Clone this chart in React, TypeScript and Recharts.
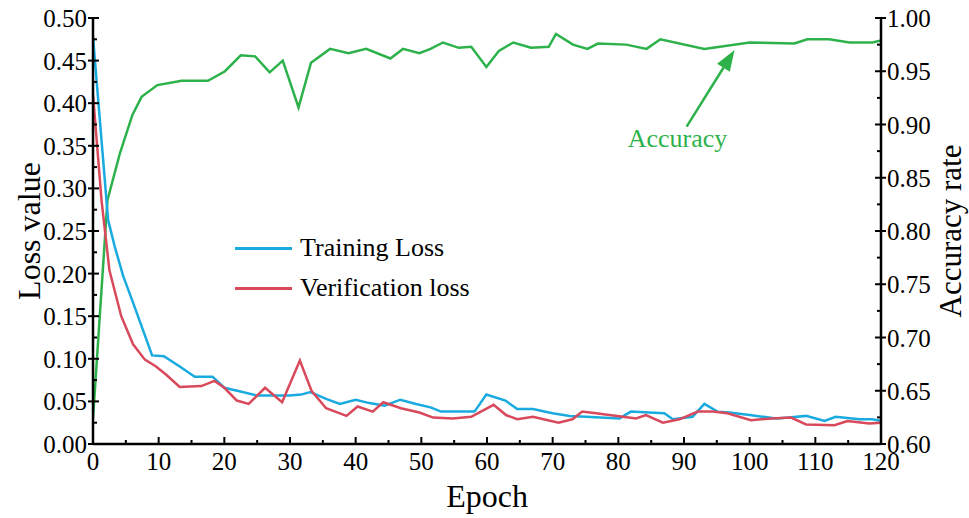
import React from 'react';
import { LineChart, Line, XAxis, YAxis, Legend, ReferenceLine, ReferenceDot } from 'recharts';

const FONT = '"Liberation Serif", "Times New Roman", serif';
const BLUE = '#19aadf';
const RED = '#d8495b';
const GREEN = '#2db24b';

// Accuracy (right axis)
const accEpochs = [0, 2.2, 4.1, 6.0, 7.4, 9.8, 13.5, 17.5, 20.1, 22.5, 24.7, 26.9, 28.9, 31.3, 33.2, 36.1, 38.9, 41.6, 45.3, 47.2, 49.7, 51.4, 53.3, 55.7, 57.6, 59.9, 61.8, 64.0, 66.7, 69.4, 70.5, 73.1, 75.3, 76.9, 81.2, 84.3, 86.4, 93.1, 100.0, 106.8, 108.8, 112.1, 115.2, 118.7, 120];
const accValues = [0.624, 0.829, 0.873, 0.909, 0.926, 0.937, 0.941, 0.941, 0.950, 0.965, 0.964, 0.949, 0.960, 0.916, 0.958, 0.971, 0.967, 0.971, 0.962, 0.971, 0.967, 0.971, 0.977, 0.972, 0.973, 0.954, 0.969, 0.977, 0.972, 0.973, 0.985, 0.975, 0.971, 0.976, 0.975, 0.971, 0.980, 0.971, 0.977, 0.976, 0.980, 0.980, 0.977, 0.977, 0.979];

// Training loss (left axis)
const trainEpochs = [0, 2.3, 3.3, 4.6, 6.1, 7.6, 9.0, 10.8, 13.2, 15.5, 18.2, 20.0, 22.3, 24.9, 29.9, 31.7, 33.1, 35.5, 37.6, 40.0, 42.1, 44.4, 46.8, 49.2, 51.4, 53.0, 58.1, 59.9, 62.8, 64.6, 67.0, 70.0, 72.6, 75.1, 80.2, 81.9, 84.7, 87.0, 88.3, 91.3, 93.1, 95.1, 96.9, 100.0, 104.0, 106.0, 108.6, 111.4, 113.1, 116.7, 118.7, 120];
const trainValues = [0.478, 0.263, 0.232, 0.197, 0.166, 0.134, 0.104, 0.103, 0.091, 0.079, 0.079, 0.066, 0.062, 0.057, 0.057, 0.058, 0.061, 0.053, 0.047, 0.052, 0.048, 0.045, 0.052, 0.047, 0.043, 0.038, 0.038, 0.058, 0.051, 0.041, 0.041, 0.036, 0.033, 0.032, 0.030, 0.038, 0.037, 0.036, 0.029, 0.032, 0.047, 0.038, 0.037, 0.034, 0.030, 0.031, 0.033, 0.027, 0.032, 0.029, 0.029, 0.027];

// Verification loss (left axis)
const valEpochs = [0, 1.3, 2.5, 4.3, 6.1, 7.9, 9.6, 11.2, 13.2, 16.5, 18.5, 20.0, 21.9, 23.7, 26.2, 28.8, 31.5, 33.3, 35.5, 38.6, 40.3, 42.6, 44.2, 46.9, 49.7, 51.8, 54.8, 57.6, 61.0, 62.9, 64.6, 67.0, 70.9, 73.0, 74.5, 76.6, 80.7, 82.7, 84.2, 86.8, 89.3, 92.1, 94.4, 96.6, 100.2, 103.3, 106.3, 108.6, 112.9, 114.9, 118.2, 120];
const valValues = [0.410, 0.286, 0.204, 0.150, 0.117, 0.099, 0.091, 0.081, 0.067, 0.068, 0.074, 0.066, 0.051, 0.047, 0.066, 0.049, 0.098, 0.062, 0.042, 0.033, 0.044, 0.038, 0.049, 0.042, 0.037, 0.031, 0.030, 0.032, 0.046, 0.034, 0.029, 0.032, 0.025, 0.029, 0.038, 0.036, 0.032, 0.030, 0.034, 0.025, 0.029, 0.038, 0.038, 0.036, 0.028, 0.030, 0.031, 0.023, 0.022, 0.027, 0.024, 0.025];

const xTicks = [0, 5, 10, 15, 20, 25, 30, 35, 40, 45, 50, 55, 60, 65, 70, 75, 80, 85, 90, 95, 100, 105, 110, 115, 120];
const leftTicks = [0, 0.025, 0.05, 0.075, 0.1, 0.125, 0.15, 0.175, 0.2, 0.225, 0.25, 0.275, 0.3, 0.325, 0.35, 0.375, 0.4, 0.425, 0.45, 0.475, 0.5];
const rightTicks = [0.6, 0.625, 0.65, 0.675, 0.7, 0.725, 0.75, 0.775, 0.8, 0.825, 0.85, 0.875, 0.9, 0.925, 0.95, 0.975, 1.0];

const accData = accEpochs.map((e, i) => ({ epoch: e, acc: accValues[i] }));
const trainData = trainEpochs.map((e, i) => ({ epoch: e, loss: trainValues[i] }));
const valData = valEpochs.map((e, i) => ({ epoch: e, loss: valValues[i] }));

const isMajorX = (v: number) => Math.round(v) % 10 === 0;
const isMajorY = (v: number) => Math.round(v * 1000) % 50 === 0;

const BottomTick = (props: any) => {
  const { x, y, payload } = props;
  const major = isMajorX(payload.value);
  return (
    <g>
      <line x1={x} y1={y} x2={x} y2={y - (major ? 7 : 4)} stroke="#000" strokeWidth={2} />
      {major && (
        <text x={x} y={y + 26} textAnchor="middle" fontFamily={FONT} fontSize={25} fill="#000">
          {payload.value}
        </text>
      )}
    </g>
  );
};

const TopTick = (props: any) => {
  const { x, y, payload } = props;
  const major = isMajorX(payload.value);
  return <line x1={x} y1={y} x2={x} y2={y + (major ? 7 : 4)} stroke="#000" strokeWidth={2} />;
};

const LeftTick = (props: any) => {
  const { x, y, payload } = props;
  const major = isMajorY(payload.value);
  return (
    <g>
      <line x1={x - (major ? 5 : 0)} y1={y} x2={x + (major ? 6 : 4)} y2={y} stroke="#000" strokeWidth={2} />
      {major && (
        <text x={x - 6} y={y + 9} textAnchor="end" fontFamily={FONT} fontSize={25} fill="#000">
          {payload.value.toFixed(2)}
        </text>
      )}
    </g>
  );
};

const RightTick = (props: any) => {
  const { x, y, payload } = props;
  const major = isMajorY(payload.value);
  return (
    <g>
      <line x1={x - (major ? 6 : 4)} y1={y} x2={x + (major ? 5 : 0)} y2={y} stroke="#000" strokeWidth={2} />
      {major && (
        <text x={x + 6} y={y + 9} textAnchor="start" fontFamily={FONT} fontSize={25} fill="#000">
          {payload.value.toFixed(2)}
        </text>
      )}
    </g>
  );
};

const LegendContent = () => (
  <div style={{ fontFamily: FONT, fontSize: 26, color: '#000' }}>
    {[
      { name: 'Training Loss', color: BLUE },
      { name: 'Verification loss', color: RED },
    ].map((it) => (
      <div key={it.name} style={{ display: 'flex', alignItems: 'center', height: 40, whiteSpace: 'nowrap' }}>
        <div style={{ width: 57, height: 3, background: it.color, marginRight: 8 }} />
        <span style={{ lineHeight: '40px' }}>{it.name}</span>
      </div>
    ))}
  </div>
);

const ArrowShape = (props: any) => {
  const { x1, y1, x2, y2 } = props;
  const dx = x2 - x1;
  const dy = y2 - y1;
  const len = Math.sqrt(dx * dx + dy * dy);
  const ux = dx / len;
  const uy = dy / len;
  const hl = 21;
  const hw = 7.5;
  const bx = x2 - ux * hl;
  const by = y2 - uy * hl;
  const px = -uy;
  const py = ux;
  return (
    <g>
      <line x1={x1} y1={y1} x2={bx} y2={by} stroke={GREEN} strokeWidth={2.5} />
      <polygon
        points={`${x2},${y2} ${bx + px * hw},${by + py * hw} ${bx - px * hw},${by - py * hw}`}
        fill={GREEN}
      />
    </g>
  );
};

const AccTextShape = (props: any) => {
  const { cx, cy } = props;
  return (
    <text x={cx} y={cy + 9} textAnchor="middle" fontFamily={FONT} fontSize={26} fill={GREEN}>
      Accuracy
    </text>
  );
};

export default function App() {
  return (
    <div style={{ position: 'absolute', left: 0, top: 0, width: 969, height: 518, background: '#fff' }}>
      <LineChart width={969} height={518} margin={{ top: 18, right: 0, bottom: 0, left: 0 }}>
        <XAxis
          xAxisId="bottom"
          dataKey="epoch"
          type="number"
          domain={[0, 120]}
          ticks={xTicks}
          interval={0}
          height={74}
          tickSize={0}
          tickMargin={0}
          tickLine={false}
          tick={<BottomTick />}
          axisLine={{ stroke: '#000', strokeWidth: 2.5 }}
          allowDataOverflow
          label={{
            content: (p: any) => {
              const vb = p.viewBox;
              return (
                <text x={vb.x + vb.width / 2} y={507} textAnchor="middle" fontFamily={FONT} fontSize={32} fill="#000">
                  Epoch
                </text>
              );
            },
          }}
        />
        <XAxis
          xAxisId="top"
          orientation="top"
          dataKey="epoch"
          type="number"
          domain={[0, 120]}
          ticks={xTicks}
          interval={0}
          height={0}
          tickSize={0}
          tickMargin={0}
          tickLine={false}
          tick={<TopTick />}
          axisLine={{ stroke: '#000', strokeWidth: 2.5 }}
          allowDataOverflow
        />
        <YAxis
          yAxisId="left"
          type="number"
          domain={[0, 0.5]}
          ticks={leftTicks}
          interval={0}
          width={93}
          tickSize={0}
          tickMargin={0}
          tickLine={false}
          tick={<LeftTick />}
          axisLine={{ stroke: '#000', strokeWidth: 2.5 }}
          allowDataOverflow
          label={{
            content: (p: any) => {
              const vb = p.viewBox;
              const cy = vb.y + vb.height / 2;
              return (
                <text
                  x={29}
                  y={cy}
                  transform={`rotate(-90, 29, ${cy})`}
                  textAnchor="middle"
                  dominantBaseline="central"
                  fontFamily={FONT}
                  fontSize={32}
                  fill="#000"
                >
                  Loss value
                </text>
              );
            },
          }}
        />
        <YAxis
          yAxisId="right"
          orientation="right"
          type="number"
          domain={[0.6, 1.0]}
          ticks={rightTicks}
          interval={0}
          width={88}
          tickSize={0}
          tickMargin={0}
          tickLine={false}
          tick={<RightTick />}
          axisLine={{ stroke: '#000', strokeWidth: 2.5 }}
          allowDataOverflow
          label={{
            content: (p: any) => {
              const vb = p.viewBox;
              const cy = vb.y + vb.height / 2;
              return (
                <text
                  x={950}
                  y={cy}
                  transform={`rotate(-90, 950, ${cy})`}
                  textAnchor="middle"
                  dominantBaseline="central"
                  fontFamily={FONT}
                  fontSize={31}
                  fill="#000"
                >
                  Accuracy rate
                </text>
              );
            },
          }}
        />
        <Legend
          verticalAlign="middle"
          align="center"
          layout="horizontal"
          content={<LegendContent />}
          wrapperStyle={{ left: 235, top: 228, width: 280, height: 80 }}
        />
        <Line
          xAxisId="bottom"
          yAxisId="right"
          data={accData}
          dataKey="acc"
          name="Accuracy"
          stroke={GREEN}
          strokeWidth={2.5}
          dot={false}
          isAnimationActive={false}
          legendType="none"
        />
        <Line
          xAxisId="bottom"
          yAxisId="left"
          data={trainData}
          dataKey="loss"
          name="Training Loss"
          stroke={BLUE}
          strokeWidth={2.5}
          dot={false}
          isAnimationActive={false}
        />
        <Line
          xAxisId="bottom"
          yAxisId="left"
          data={valData}
          dataKey="loss"
          name="Verification loss"
          stroke={RED}
          strokeWidth={2.5}
          dot={false}
          isAnimationActive={false}
        />
        <ReferenceLine
          xAxisId="bottom"
          yAxisId="right"
          segment={[
            { x: 90.4, y: 0.898 },
            { x: 97.7, y: 0.970 },
          ]}
          ifOverflow="visible"
          shape={<ArrowShape />}
        />
        <ReferenceDot
          xAxisId="bottom"
          yAxisId="right"
          x={89.0}
          y={0.8876}
          r={0}
          ifOverflow="visible"
          shape={<AccTextShape />}
        />
      </LineChart>
    </div>
  );
}
